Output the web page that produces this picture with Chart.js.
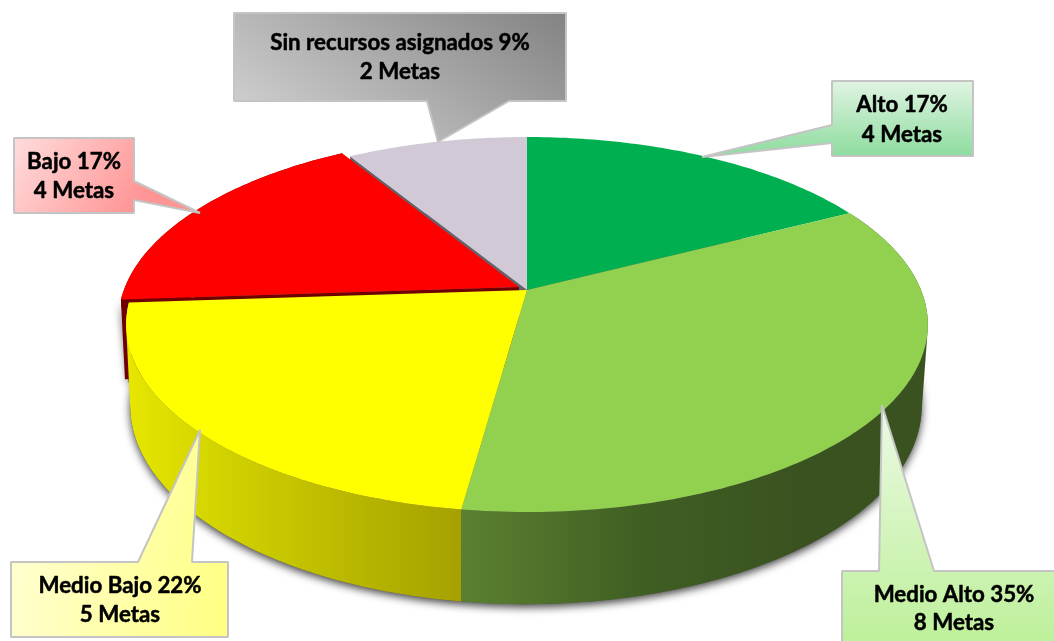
<!DOCTYPE html>
<html>
<head>
<meta charset="utf-8">
<style>
  html, body { margin: 0; padding: 0; background: #fff; overflow: hidden; }
</style>
<script src="https://cdn.jsdelivr.net/npm/chart.js@4"></script>
</head>
<body>
<canvas id="chart" width="1054" height="641"></canvas>
<script>
// chart data
const categories = ["Alto", "Medio Alto", "Medio Bajo", "Bajo", "Sin recursos asignados"];
const metas = [4, 8, 5, 4, 2];
const sliceColors = ["#00B050", "#92D050", "#FFFF00", "#FF0000", "#D1C9D6"];

// perspective of the disc: top face and bottom face
const k = -0.184;
const topFace = { cx: 527, c: 394, a: 127.8, b: 290 };
const botFace = { cx: 526, c: 389, a: 124, b: 369 };

// callout shapes, same order as categories
const callouts = [
  { box: [832, 81, 973, 156], ptr: [[832, 125], [702, 157], [832, 143]], side: "left",
    grad: [0, 81, 0, 156, "#e0f4e2", "#8edc9f"], text: [902, 112, 142] },
  { box: [842, 571, 1068, 650], ptr: [[879, 571], [882, 405], [934, 571]], side: "top",
    grad: [0, 405, 0, 650, "#ecf9e4", "#bcf098"], text: [954, 602, 630] },
  { box: [11, 562, 228, 637], ptr: [[138, 562], [200, 430], [192, 562]], side: "top",
    grad: [11, 560, 228, 600, "#ffffd0", "#ffff84"], text: [120, 593, 622] },
  { box: [14, 138, 134, 213], ptr: [[134, 181], [200, 213], [134, 200]], side: "right",
    grad: [14, 138, 134, 213, "#ffdcdc", "#ff9494"], text: [74, 169, 198] },
  { box: [234, 13, 566, 101], ptr: [[427, 101], [438, 142], [509, 101]], side: "bottom",
    grad: [234, 101, 384, -124, "#cdcdcd", "#7f7f7f"], text: [400, 50, 79] },
];

function project(angle, face, dx = 0, dy = 0) {
  const w = 1 + k * Math.sin(angle);
  return [
    face.cx + dx + face.c * Math.cos(angle) / w,
    (face.a * Math.sin(angle) + face.b) / w + dy,
  ];
}

function arcPoints(start, end, face, dx, dy) {
  const n = Math.max(2, Math.ceil((end - start) * 60));
  const pts = [];
  for (let i = 0; i <= n; i++) pts.push(project(start + (end - start) * i / n, face, dx, dy));
  return pts;
}

function tracePoly(ctx, pts) {
  ctx.beginPath();
  pts.forEach((p, i) => (i ? ctx.lineTo(p[0], p[1]) : ctx.moveTo(p[0], p[1])));
  ctx.closePath();
}

function signedArea(q) {
  let s = 0;
  q.forEach((p, i) => {
    const n = q[(i + 1) % q.length];
    s += p[0] * n[1] - n[0] * p[1];
  });
  return s;
}

// outer wall of a slice, one path of small quads (all wound the same way)
// so the silhouette between both faces stays filled
function drawWall(ctx, arc, fill, dx = 0, dy = 0, botDx = dx, botDy = dy) {
  const t = arcPoints(arc.startAngle, arc.endAngle, topFace, dx, dy);
  const b = arcPoints(arc.startAngle, arc.endAngle, botFace, botDx, botDy);
  ctx.beginPath();
  for (let i = 0; i < t.length - 1; i++) {
    const q = [t[i], t[i + 1], b[i + 1], b[i]];
    if (signedArea(q) < 0) q.reverse();
    q.forEach((p, j) => (j ? ctx.lineTo(p[0], p[1]) : ctx.moveTo(p[0], p[1])));
    ctx.closePath();
  }
  ctx.fillStyle = fill;
  ctx.fill();
}

function drawCut(ctx, angle, fill, dx = 0, dy = 0) {
  tracePoly(ctx, [
    project(angle, topFace, dx, dy),
    [topFace.cx + dx, topFace.b + dy],
    [botFace.cx + dx, botFace.b + dy],
    project(angle, botFace, dx, dy),
  ]);
  ctx.fillStyle = fill;
  ctx.fill();
}

function drawTop(ctx, arc, fill, dx = 0, dy = 0) {
  const pts = arcPoints(arc.startAngle, arc.endAngle, topFace, dx, dy);
  pts.push([topFace.cx + dx, topFace.b + dy]);
  tracePoly(ctx, pts);
  ctx.fillStyle = fill;
  ctx.fill();
}

function hGrad(ctx, stops) {
  const x0 = stops[0][0], x1 = stops[stops.length - 1][0];
  const g = ctx.createLinearGradient(x0, 0, x1, 0);
  stops.forEach(s => g.addColorStop((s[0] - x0) / (x1 - x0), s[1]));
  return g;
}

const pie3d = {
  id: "pie3d",
  beforeDatasetsDraw(chart) {
    const ctx = chart.ctx;
    const arcs = chart.getDatasetMeta(0).data;
    const redDx = -8, redDy = -3;
    ctx.save();

    // shadow under the body
    ctx.save();
    ctx.shadowColor = "rgba(0,0,0,0.75)";
    ctx.shadowBlur = 9;
    ctx.shadowOffsetY = 3;
    tracePoly(ctx, arcPoints(0, Math.PI * 2, botFace));
    ctx.fillStyle = "#555";
    ctx.fill();
    const rb = arcs[3];
    tracePoly(ctx, [project(rb.startAngle, topFace, redDx, redDy), project(rb.startAngle, botFace, redDx + 4, redDy + 4), project(rb.startAngle + 0.15, botFace)]);
    ctx.fill();
    ctx.restore();

    drawCut(ctx, arcs[4].startAngle, "#66626b");
    drawWall(ctx, arcs[3], "#6e0000", redDx, redDy, redDx + 4, redDy + 4);
    drawCut(ctx, arcs[3].startAngle, "#6e0000", redDx, redDy);

    drawWall(ctx, arcs[2], hGrad(ctx, [[128, "#e6e600"], [300, "#c2c200"], [463, "#a5a000"]]));
    drawWall(ctx, arcs[1], hGrad(ctx, [[463, "#5b8030"], [640, "#405f23"], [800, "#3a5220"], [930, "#3a5220"]]));

    arcs.forEach((arc, i) => {
      const isRed = i === 3;
      drawTop(ctx, arc, arc.options.backgroundColor, isRed ? redDx : 0, isRed ? redDy : 0);
    });
    ctx.restore();
    return false; // the disc is already drawn
  },
  afterDraw(chart) {
    const ctx = chart.ctx;
    const total = metas.reduce((s, v) => s + v, 0);
    ctx.save();
    callouts.forEach((c, i) => {
      const [x0, y0, x1, y1] = c.box;
      let pts;
      if (c.side === "left") pts = [[x0, y0], [x1, y0], [x1, y1], [x0, y1], ...[...c.ptr].reverse()];
      if (c.side === "right") pts = [[x0, y0], [x1, y0], ...c.ptr, [x1, y1], [x0, y1]];
      if (c.side === "top") pts = [[x0, y0], ...c.ptr, [x1, y0], [x1, y1], [x0, y1]];
      if (c.side === "bottom") pts = [[x0, y0], [x1, y0], [x1, y1], ...[...c.ptr].reverse(), [x0, y1]];
      const g = ctx.createLinearGradient(c.grad[0], c.grad[1], c.grad[2], c.grad[3]);
      g.addColorStop(0, c.grad[4]);
      g.addColorStop(1, c.grad[5]);
      tracePoly(ctx, pts);
      ctx.fillStyle = g;
      ctx.fill();
      ctx.lineWidth = 2;
      ctx.lineJoin = "bevel";
      ctx.strokeStyle = "#c4c4c4";
      ctx.stroke();

      const pct = Math.round(metas[i] / total * 100);
      const lines = [`${categories[i]} ${pct}%`, `${metas[i]} Metas`];
      ctx.fillStyle = "#000";
      ctx.strokeStyle = "#000";
      ctx.lineWidth = 0.5; // Lato bold is lighter than the original face
      ctx.font = "bold 22.3px Lato";
      ctx.textAlign = "center";
      ctx.textBaseline = "alphabetic";
      lines.forEach((line, j) => {
        ctx.fillText(line, c.text[0], c.text[j + 1]);
        ctx.strokeText(line, c.text[0], c.text[j + 1]);
      });
    });
    ctx.restore();
  },
};

new Chart(document.getElementById("chart"), {
  type: "pie",
  data: {
    labels: categories,
    datasets: [{ data: metas, backgroundColor: sliceColors, borderWidth: 0 }],
  },
  options: {
    responsive: false,
    animation: false,
    plugins: {
      legend: { display: false },
      tooltip: { enabled: false },
    },
  },
  plugins: [pie3d],
});
</script>
</body>
</html>
